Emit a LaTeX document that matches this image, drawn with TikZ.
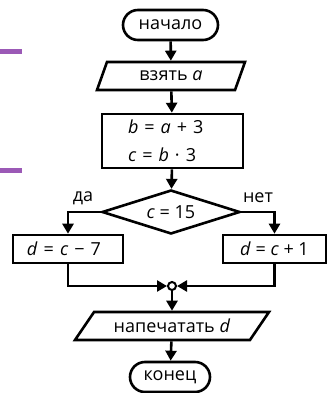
\documentclass[tikz,border=0pt]{standalone}
\usepackage{fontspec}
\setmainfont{Open Sans}
\usetikzlibrary{arrows.meta,shapes.geometric,shapes.misc}
\definecolor{barpurple}{RGB}{155,89,182}

\begin{document}
\begin{tikzpicture}[x=1pt,y=-1pt,line width=2.6pt,
  >={Triangle[width=11pt,length=10pt]},
  every node/.style={font=\fontsize{18}{20}\selectfont},
  term/.style={draw,rounded rectangle,minimum height=30pt,inner sep=0pt},
  io/.style={draw,trapezium,trapezium stretches body,minimum height=28pt,inner sep=0pt},
  proc/.style={draw,rectangle,minimum height=28pt,inner sep=0pt},
  cond/.style={draw,diamond,aspect=3,minimum width=138pt,minimum height=44pt,inner sep=0pt}]
 \useasboundingbox (0,0) rectangle (327,393);
 % side marks
 \fill[barpurple] (0,49) rectangle (22,54);
 \fill[barpurple] (0,168) rectangle (22,173);
 % blocks
 \node[term,minimum width=95pt] (start) at (170.5,25) {начало};
 \node[io,trapezium left angle=45,trapezium right angle=135,minimum width=148pt] (input) at (171,76) {взять \textit{a}};
 \node[proc,minimum width=141pt,minimum height=54pt,align=left,text width=89pt,inner xsep=26pt] (calc) at (172.5,141)
   {\textit{b} = \textit{a} + 3\\[8pt]\textit{c} = \textit{b} · 3};
 \node[cond] (test) at (171,212) {\textit{c} = 15};
 \node (yes) at (83,198) {да};
 \node (no) at (258,198) {нет};
 \node[proc,minimum width=110pt,align=left,text width=82pt,inner xsep=14pt] (left) at (68,249) {\textit{d} = \textit{c} − 7};
 \node[proc,minimum width=103pt] (right) at (274.5,249) {\textit{d} = \textit{c} + 1};
 \node[circle,draw,fill=white,inner sep=0pt,minimum size=8pt,line width=2pt] (join) at (172,286) {};
 \node[io,trapezium left angle=36,trapezium right angle=144,minimum width=194pt] (output) at (172,326) {напечатать \textit{d}};
 \node[term,minimum width=80pt] (stop) at (170,377) {конец};
 % arrows
 \draw[->] (start) -- (input);
 \draw[->] (input) -- (calc);
 \draw[->] (calc) -- (test);
 \draw[->] (test.west) -| (left.north);
 \draw[->] (test.east) -| (right.north);
 \draw[->] (left.south) |- (join.west);
 \draw[->] (right.south) |- (join.east);
 \draw[->] (join) -- (output);
 \draw[->] (output) -- (stop);
\end{tikzpicture}
\end{document}
